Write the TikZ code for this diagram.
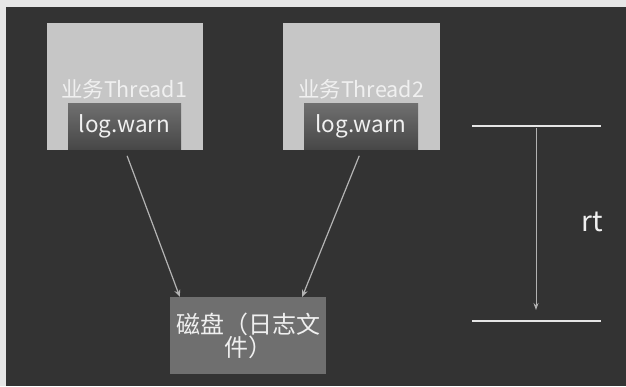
\documentclass[tikz,border=0pt]{standalone}
\usepackage{fontspec}
\setmainfont{Noto Sans CJK SC}
\usepackage{xcolor}
\usetikzlibrary{positioning, arrows.meta}

\definecolor{pagegray}{HTML}{E6E6E6}
\definecolor{bgdark}{HTML}{333333}
\definecolor{threadgray}{HTML}{C6C6C6}
\definecolor{diskgray}{HTML}{6F6F6F}
\definecolor{linkgray}{HTML}{B4B4B4}

\begin{document}
\begin{tikzpicture}[x=1pt, y=-1pt, every node/.style={inner sep=0pt, text=white!94!black},
  thread/.style={rectangle, fill=threadgray, minimum width=156pt, minimum height=127pt},
  logbox/.style={rectangle, top color=gray!75!white!70!black, bottom color=black!72, minimum width=113pt, minimum height=46pt, font=\fontsize{22.5}{24}\selectfont},
  disk/.style={rectangle, fill=diskgray, minimum width=156pt, minimum height=77pt, align=center, font=\fontsize{24}{23}\selectfont},
  link/.style={->, >={Stealth[length=7pt, width=6pt]}, linkgray, line width=1.2pt}]
  % background
  \fill[pagegray] (0,0) rectangle (626,386);
  \fill[bgdark] (6,7) rectangle (626,386);
  % two business threads
  \node[thread] (t1) at (125,86.5) {};
  \node[logbox] (log1) at (124.5,126) {log.warn};
  \node[font=\fontsize{21.5}{24}\selectfont] (name1) at (124,89) {业务Thread1};
  \node[thread, minimum width=157pt] (t2) at (361.5,86.5) {};
  \node[logbox, minimum width=114pt] (log2) at (361,126) {log.warn};
  \node[font=\fontsize{21.5}{24}\selectfont] (name2) at (361,89) {业务Thread2};
  % disk
  \node[disk] (disk) at (248,335.5) {磁盘（日志文\\件）};
  \draw[link, shorten <=6pt] (t1.south) -- ([xshift=10pt]disk.north west);
  \draw[link, shorten <=6pt] (t2.south) -- ([xshift=-24pt]disk.north east);
  % response time
  \coordinate (rtTop) at (536,126);
  \coordinate (rtBot) at (536,321);
  \draw[white!90!black, line width=2.2pt] ([xshift=-64pt]rtTop) -- ([xshift=65pt]rtTop);
  \draw[white!90!black, line width=2.2pt] ([xshift=-64pt]rtBot) -- ([xshift=65pt]rtBot);
  \draw[->, >={Stealth[length=7pt, width=5pt]}, gray!60!white, line width=0.9pt, shorten <=2pt, shorten >=11pt] (rtTop) -- (rtBot);
  \node[font=\fontsize{28}{30}\selectfont] (rt) at (592,222) {rt};
\end{tikzpicture}
\end{document}
